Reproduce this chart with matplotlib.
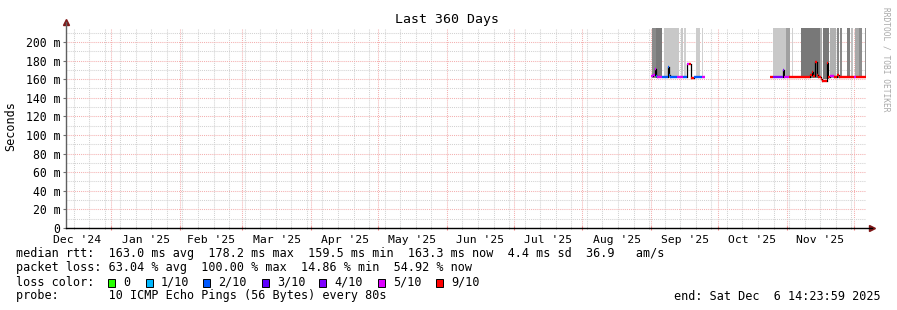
import numpy as np
import pandas as pd
import matplotlib
matplotlib.use("Agg")
import matplotlib.pyplot as plt
import matplotlib.dates as mdates
import matplotlib.transforms as mtransforms
from matplotlib.ticker import MultipleLocator, NullFormatter
from matplotlib.patches import Rectangle

# zakres czasu - ostatnie 360 dni
t_start = pd.Timestamp("2024-12-11 14:23:59")
t_end = pd.Timestamp("2025-12-06 14:23:59")

# legenda strat pakietow
loss_labels = ["0", "1/10", "2/10", "3/10", "4/10", "5/10", "9/10"]
loss_colors = ["#26ff00", "#00b8ff", "#0059ff", "#5e00ff", "#7e00ff", "#dd00ff", "#ff0000"]

# "dym" - rozrzut pingow (pasma od min do max, max poza skala)
band_start = ["2025-09-01 02:00", "2025-09-03 03:00", "2025-09-06 17:00", "2025-09-14 09:00",
              "2025-09-15 17:00", "2025-09-21 03:00", "2025-09-23 14:00",
              "2025-10-25 13:00", "2025-10-31 15:00", "2025-11-03 02:00", "2025-11-07 03:00",
              "2025-11-15 22:00", "2025-11-17 01:00", "2025-11-20 05:00", "2025-11-23 08:00",
              "2025-11-24 22:00", "2025-11-28 01:00", "2025-11-29 21:00", "2025-12-01 16:00",
              "2025-12-03 06:00", "2025-12-05 23:00"]
band_end = ["2025-09-03 03:00", "2025-09-05 20:00", "2025-09-13 11:00", "2025-09-15 06:00",
            "2025-09-16 15:00", "2025-09-22 22:00", "2025-09-24 07:00",
            "2025-10-31 15:00", "2025-11-02 10:00", "2025-11-03 18:00", "2025-11-15 22:00",
            "2025-11-16 19:00", "2025-11-19 23:00", "2025-11-23 03:00", "2025-11-24 06:00",
            "2025-11-25 19:00", "2025-11-29 10:00", "2025-11-30 18:00", "2025-12-03 06:00",
            "2025-12-05 00:00", "2025-12-06 14:00"]
band_low = [161, 161, 161, 161, 161, 161, 161,
            161, 161, 161, 161, 161, 160, 161, 161, 161, 161, 161, 161, 161, 161]
band_high = [240] * 21
band_gray = ["#8a8a8a", "#7a7a7a", "#c8c8c8", "#c8c8c8", "#d0d0d0", "#cccccc", "#d0d0d0",
             "#c8c8c8", "#a0a0a0", "#d0d0d0", "#787878", "#a8a8a8", "#787878", "#b0b0b0",
             "#888888", "#8a8a8a", "#808080", "#c0c0c0", "#a8a8a8", "#8c8c8c", "#909090"]

# mediana rtt [ms] i indeks koloru strat; NaN = koniec odcinka danych
med_time = ["2025-08-31 21:00", "2025-09-01 18:00", "2025-09-02 11:00", "2025-09-02 21:00",
            "2025-09-03 14:00", "2025-09-05 20:00", "2025-09-08 12:00", "2025-09-08 23:00",
            "2025-09-09 10:00", "2025-09-12 14:00", "2025-09-15 06:00", "2025-09-16 20:00",
            "2025-09-17 23:00", "2025-09-18 15:00", "2025-09-20 05:00", "2025-09-23 20:00",
            "2025-09-25 04:00",
            "2025-10-24 05:00", "2025-10-25 13:00", "2025-10-30 01:00", "2025-10-30 12:00",
            "2025-11-01 23:00", "2025-11-11 10:00", "2025-11-12 07:00", "2025-11-12 18:00",
            "2025-11-13 16:00", "2025-11-14 08:00", "2025-11-15 00:00", "2025-11-16 09:00",
            "2025-11-16 19:00", "2025-11-18 20:00", "2025-11-19 07:00", "2025-11-20 10:00",
            "2025-11-22 05:00", "2025-11-23 13:00", "2025-11-24 11:00", "2025-12-01 00:00",
            "2025-12-02 03:00", "2025-12-06 14:00"]
med_ms = [163, 165, 171, 163, 162, 162, 173, 164, 162, 162, 162, 176, 176, 161, 162, 162, np.nan,
          162, 162, 170, 162, 162, 165, 168, 163, 178, 164, 162, 160, 158, 177, 162, 163,
          162, 165, 162, 162, 162, np.nan]
med_loss = [5, 5, 5, 2, 5, 2, 2, 2, 2, 5, 2, 5, 6, 6, 2, 5, 0,
            6, 4, 4, 5, 6, 6, 6, 6, 6, 6, 6, 6, 6, 6, 6, 5,
            6, 6, 6, 5, 6, 0]

month_starts = pd.date_range("2024-12-01", "2026-01-01", freq="MS")
month_labels = ["Dec '24", "Jan '25", "Feb '25", "Mar '25", "Apr '25", "May '25",
                "Jun '25", "Jul '25", "Aug '25", "Sep '25", "Oct '25", "Nov '25"]

y_major = list(range(0, 201, 20))
y_labels = ["0"] + [f"{v} m" for v in y_major[1:]]

mono = "DejaVu Sans Mono"
W, H = 897, 310

fig = plt.figure(figsize=(W / 100, H / 100), dpi=100)
fig.patch.set_facecolor("white")
ax = fig.add_axes([66 / W, 82 / H, 800 / W, 200 / H])

x0 = mdates.date2num(t_start)
x1 = mdates.date2num(t_end)
ax.set_xlim(x0, x1)
ax.set_ylim(0, 215.05)

# dym
bs = mdates.date2num(pd.to_datetime(band_start))
be = mdates.date2num(pd.to_datetime(band_end))
ax.bar(bs, np.array(band_high) - np.array(band_low), width=be - bs, bottom=band_low,
       align="edge", color=band_gray, linewidth=0, zorder=2)

# mediana jako linia schodkowa kolorowana strata
mt = mdates.date2num(pd.to_datetime(med_time))
for i in range(len(mt) - 1):
    if np.isnan(med_ms[i]):
        continue
    ax.plot([mt[i], mt[i + 1]], [med_ms[i], med_ms[i]], color=loss_colors[med_loss[i]],
            lw=1.7, solid_capstyle="butt", zorder=4)
    if not np.isnan(med_ms[i + 1]):
        ax.plot([mt[i + 1], mt[i + 1]], [med_ms[i], med_ms[i + 1]], color="black",
                lw=0.9, zorder=3)

# siatka
ax.set_axisbelow(True)
ax.xaxis.set_major_locator(mdates.MonthLocator())
ax.xaxis.set_minor_locator(mdates.WeekdayLocator(byweekday=mdates.SU))
ax.xaxis.set_major_formatter(NullFormatter())
ax.set_yticks(y_major)
ax.set_yticklabels(y_labels, family=mono, fontsize=8.3)
ax.yaxis.set_minor_locator(MultipleLocator(10))
dots = (0, (1, 1))
ax.grid(True, which="minor", color="#d2d2d2", linestyle=dots, lw=0.75)
ax.grid(True, which="major", color="#f4b0b0", linestyle=dots, lw=0.75)
ax.tick_params(axis="x", which="major", length=3, direction="inout", color="#f08080")
ax.tick_params(axis="x", which="minor", length=2, direction="inout", color="#a0a0a0")
ax.tick_params(axis="y", which="major", length=2, pad=2, color="#707070")
ax.tick_params(axis="y", which="minor", length=0)
for s in ax.spines.values():
    s.set_visible(False)

# osie ze strzalkami
ax.plot([0, 0], [0, 1.03], transform=ax.transAxes, color="#606060", lw=1, clip_on=False, zorder=5)
ax.plot([0], [1.03], marker="^", ms=4.5, color="#801818", transform=ax.transAxes, clip_on=False)
ax.plot([0, 1.007], [0, 0], transform=ax.transAxes, color="black", lw=1, clip_on=False, zorder=5)
ax.plot([1.007], [0], marker=">", ms=4.5, color="#801818", transform=ax.transAxes, clip_on=False)

# etykiety miesiecy na srodku miesiaca
trans = mtransforms.blended_transform_factory(ax.transData, ax.transAxes)
for k, lab in enumerate(month_labels):
    mid = month_starts[k] + (month_starts[k + 1] - month_starts[k]) / 2
    ax.text(mdates.date2num(mid), -0.06, lab, transform=trans, ha="center", va="center",
            family=mono, fontsize=8.2)

fig.text(447 / W, 1 - 19 / H, "Last 360 Days", ha="center", va="center", family=mono, fontsize=9.5)
fig.text(11 / W, 1 - 126 / H, "Seconds", rotation=90, ha="center", va="center", family=mono, fontsize=8.5)
fig.text(886 / W, 1 - 59 / H, "RRDTOOL / TOBI OETIKER", rotation=270, ha="center", va="center",
         family=mono, fontsize=5.7, color="#a8a8a8")

# legenda
row1 = "median rtt:  163.0 ms avg  178.2 ms max  159.5 ms min  163.3 ms now  4.4 ms sd  36.9   am/s"
row2 = "packet loss: 63.04 % avg  100.00 % max  14.86 % min  54.92 % now"
row4 = "probe:       10 ICMP Echo Pings (56 Bytes) every 80s"
fig.text(16 / W, 1 - 254 / H, row1, ha="left", va="center", family=mono, fontsize=8.5)
fig.text(16 / W, 1 - 268 / H, row2, ha="left", va="center", family=mono, fontsize=8.5)
fig.text(16 / W, 1 - 282 / H, "loss color:", ha="left", va="center", family=mono, fontsize=8.5)
fig.text(16 / W, 1 - 296 / H, row4, ha="left", va="center", family=mono, fontsize=8.5)
fig.text(881 / W, 1 - 296 / H, "end: Sat Dec  6 14:23:59 2025", ha="right", va="center",
         family=mono, fontsize=8.5)

sq_x = [108, 146, 203, 262, 319, 378, 436]
for xp, lab, col in zip(sq_x, loss_labels, loss_colors):
    fig.patches.append(Rectangle((xp / W, (H - 286.5) / H), 7 / W, 8 / H, transform=fig.transFigure,
                                 facecolor=col, edgecolor="black", lw=0.7))
    fig.text((xp + 15) / W, 1 - 282 / H, lab, ha="left", va="center", family=mono, fontsize=8.5)

fig.savefig("out.png", dpi=100, facecolor="white")
